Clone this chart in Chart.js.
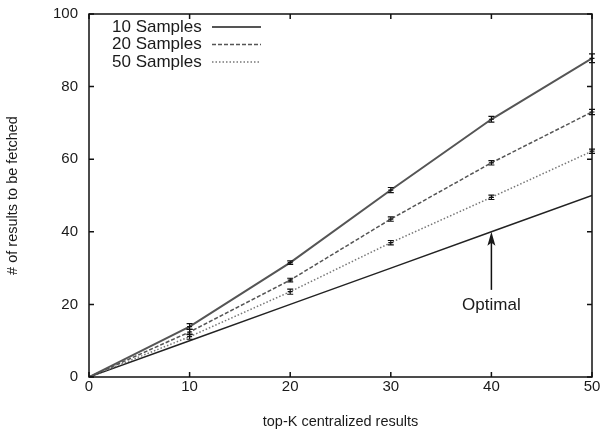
<!DOCTYPE html>
<html><head><meta charset="utf-8">
<script src="https://cdn.jsdelivr.net/npm/chart.js@4/dist/chart.umd.min.js"></script>
<style>html,body{margin:0;padding:0;background:#fff}#wrap{width:606px;height:432px}</style>
</head><body><div id="wrap"><canvas id="c" width="606" height="432"></canvas></div>
<script>
const xValues = [0, 10, 20, 30, 40, 50];
const s10 = [0, 13.9, 31.5, 51.5, 71, 87.8];
const s20 = [0, 12.4, 26.7, 43.5, 59, 73];
const s50 = [0, 11.1, 23.5, 37, 49.5, 62.2];
const optimal = [0, 10, 20, 30, 40, 50];
const err10 = [0, 0.8, 0.5, 0.7, 0.8, 1.2];
const err20 = [0, 0.7, 0.5, 0.6, 0.6, 0.7];
const err50 = [0, 0.7, 0.7, 0.6, 0.6, 0.6];
const xTicks = [0, 10, 20, 30, 40, 50];
const yTicks = [0, 20, 40, 60, 80, 100];
const labels = ['10 Samples', '20 Samples', '50 Samples'];

const pts = a => a.map((v, i) => ({x: xValues[i], y: v}));
const FONT = '"Liberation Sans", Arial, sans-serif';

const errorBars = {
  id: 'errorBars',
  afterDatasetsDraw(chart) {
    const {ctx, scales: {x, y}} = chart;
    ctx.save();
    chart.data.datasets.forEach(ds => {
      if (!ds.errors) return;
      ctx.strokeStyle = '#111';
      ctx.lineWidth = 1.2;
      ds.data.forEach((p, i) => {
        const e = ds.errors[i];
        if (!e) return;
        const px = x.getPixelForValue(p.x);
        const y1 = y.getPixelForValue(p.y - e), y2 = y.getPixelForValue(p.y + e);
        ctx.beginPath();
        ctx.moveTo(px, y1); ctx.lineTo(px, y2);
        ctx.moveTo(px - 3, y1); ctx.lineTo(px + 3, y1);
        ctx.moveTo(px - 3, y2); ctx.lineTo(px + 3, y2);
        ctx.moveTo(px - 2.5, y.getPixelForValue(p.y)); ctx.lineTo(px + 2.5, y.getPixelForValue(p.y));
        ctx.stroke();
      });
    });
    ctx.restore();
  }
};

const frame = {
  id: 'frame',
  afterDraw(chart) {
    const {ctx, chartArea: a, scales: {x, y}} = chart;
    ctx.save();
    ctx.strokeStyle = '#111';
    ctx.lineWidth = 1.5;
    ctx.strokeRect(a.left, a.top, a.right - a.left, a.bottom - a.top);
    ctx.beginPath();
    xTicks.forEach(v => {
      const px = x.getPixelForValue(v);
      ctx.moveTo(px, a.bottom); ctx.lineTo(px, a.bottom - 5);
      ctx.moveTo(px, a.top); ctx.lineTo(px, a.top + 5);
    });
    yTicks.forEach(v => {
      const py = y.getPixelForValue(v);
      ctx.moveTo(a.left, py); ctx.lineTo(a.left + 5, py);
      ctx.moveTo(a.right, py); ctx.lineTo(a.right - 5, py);
    });
    ctx.stroke();
    // legend
    ctx.font = '17px ' + FONT;
    ctx.textBaseline = 'middle';
    ctx.textAlign = 'left';
    chart.data.datasets.slice(0, 3).forEach((ds, i) => {
      const ty = a.top + 13 + i * 17.5;
      ctx.fillStyle = '#1a1a1a';
      ctx.fillText(ds.label, 112, ty);
      ctx.strokeStyle = ds.borderColor;
      ctx.lineWidth = ds.borderWidth;
      ctx.setLineDash(ds.borderDash || []);
      ctx.beginPath();
      ctx.moveTo(212, ty); ctx.lineTo(261, ty);
      ctx.stroke();
    });
    ctx.setLineDash([]);
    // annotation arrow
    const ax = x.getPixelForValue(40);
    const tip = y.getPixelForValue(40), tail = y.getPixelForValue(24);
    ctx.strokeStyle = '#111'; ctx.fillStyle = '#1a1a1a'; ctx.lineWidth = 1.5;
    ctx.beginPath(); ctx.moveTo(ax, tail); ctx.lineTo(ax, tip + 6); ctx.stroke();
    ctx.beginPath(); ctx.moveTo(ax, tip); ctx.lineTo(ax - 4, tip + 14); ctx.lineTo(ax, tip + 11); ctx.lineTo(ax + 4, tip + 14); ctx.closePath(); ctx.fill();
    ctx.textAlign = 'center';
    ctx.fillText('Optimal', ax, y.getPixelForValue(19.8));
    ctx.restore();
  }
};

new Chart(document.getElementById('c'), {
  type: 'line',
  data: {
    datasets: [
      {label: labels[0], data: pts(s10), errors: err10, borderColor: '#555', borderWidth: 2, borderDash: [], pointRadius: 0},
      {label: labels[1], data: pts(s20), errors: err20, borderColor: '#555', borderWidth: 1.5, borderDash: [4, 2], pointRadius: 0},
      {label: labels[2], data: pts(s50), errors: err50, borderColor: '#777', borderWidth: 1.5, borderDash: [1.5, 2], pointRadius: 0},
      {label: 'Optimal', data: pts(optimal), borderColor: '#222', borderWidth: 1.5, pointRadius: 0}
    ]
  },
  options: {
    responsive: false,
    animation: false,
    layout: {padding: {left: 0, right: 14, top: 14, bottom: 0}},
    plugins: {legend: {display: false}, tooltip: {enabled: false}},
    scales: {
      x: {
        type: 'linear', min: 0, max: 50,
        afterBuildTicks: s => { s.ticks = xTicks.map(v => ({value: v})); },
        grid: {display: false, drawTicks: false}, border: {display: false},
        ticks: {color: '#1a1a1a', font: {size: 15, family: FONT}, padding: 1, maxRotation: 0},
        title: {display: true, text: 'top-K centralized results', color: '#1a1a1a', font: {size: 14.5, family: FONT}, padding: {top: 4, bottom: 1}},
        afterFit: s => { s.height = 55; s.paddingLeft = 0; s.paddingRight = 0; }
      },
      y: {
        type: 'linear', min: 0, max: 100,
        afterBuildTicks: s => { s.ticks = yTicks.map(v => ({value: v})); },
        grid: {display: false, drawTicks: false}, border: {display: false},
        ticks: {color: '#1a1a1a', font: {size: 15, family: FONT}, padding: 11},
        title: {display: true, text: '# of results to be fetched', color: '#1a1a1a', font: {size: 14.5, family: FONT}, padding: {top: 4, bottom: 4}},
        afterFit: s => { s.width = 89; s.paddingTop = 0; s.paddingBottom = 0; }
      }
    }
  },
  plugins: [errorBars, frame]
});
</script></body></html>
